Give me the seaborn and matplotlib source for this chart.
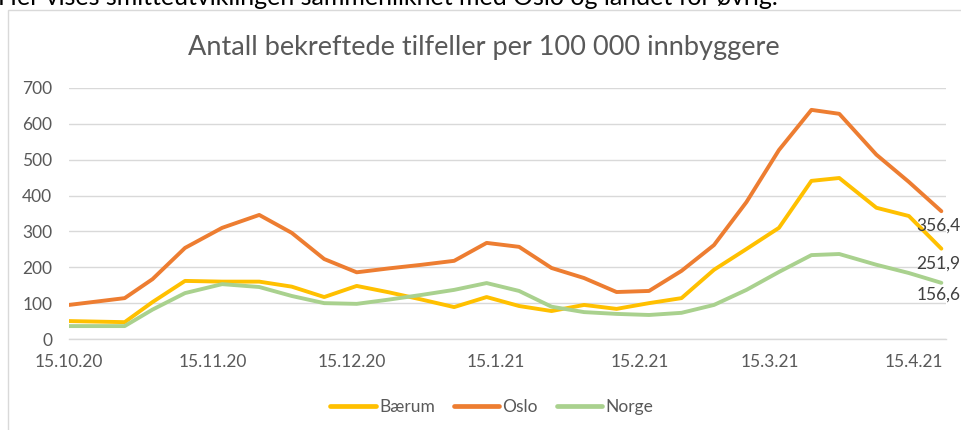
import matplotlib
matplotlib.use("Agg")
import matplotlib.pyplot as plt
import matplotlib.dates as mdates
import matplotlib.ticker as mticker
from matplotlib.patches import Rectangle
import pandas as pd
import seaborn as sns

dates = ["2020-10-15", "2020-10-27", "2020-11-02", "2020-11-09", "2020-11-17",
         "2020-11-25", "2020-12-02", "2020-12-09", "2020-12-16", "2020-12-23",
         "2020-12-30", "2021-01-06", "2021-01-13", "2021-01-20", "2021-01-27",
         "2021-02-03", "2021-02-10", "2021-02-17", "2021-02-24", "2021-03-03",
         "2021-03-10", "2021-03-17", "2021-03-24", "2021-03-30", "2021-04-07",
         "2021-04-14", "2021-04-21"]

baerum = [50, 47, 103, 162, 160, 160, 146, 117, 148, 130, 110, 89, 117, 92, 78,
          95, 84, 100, 114, 193, 251, 310, 441, 449, 366, 343, 251.9]
oslo = [95, 114, 167, 254, 310, 346, 296, 223, 186, 197, 207, 218, 268, 257, 198,
        170, 131, 134, 190, 262, 382, 527, 639, 628, 514, 438, 356.4]
norge = [36, 36, 82, 128, 153, 145, 120, 100, 98, 110, 123, 137, 156, 134, 90,
         75, 70, 67, 73, 95, 137, 187, 234, 237, 207, 184, 156.6]

series_names = ["Bærum", "Oslo", "Norge"]
series_colors = ["#FFC000", "#ED7D31", "#A9D18E"]
tick_dates = ["2020-10-15", "2020-11-15", "2020-12-15", "2021-01-15",
              "2021-02-15", "2021-03-15", "2021-04-15"]
y_ticks = [0, 100, 200, 300, 400, 500, 600, 700]
title = "Antall bekreftede tilfeller per 100 000 innbyggere"
intro = "Her vises smitteutviklingen sammenliknet med Oslo og landet for øvrig."

df = pd.DataFrame({
    "dato": pd.to_datetime(dates * 3),
    "verdi": baerum + oslo + norge,
    "serie": [series_names[0]] * len(dates) + [series_names[1]] * len(dates)
             + [series_names[2]] * len(dates),
})

sns.set_style("white")
plt.rcParams["font.family"] = ["Lato", "DejaVu Sans"]

fig = plt.figure(figsize=(9.62, 4.30), dpi=100)
ax = fig.add_axes([69 / 962, (430 - 339) / 430, (946 - 69) / 962, (339 - 88) / 430])

# chart frame
fig.patches.append(Rectangle((8 / 962, -0.05), 1.2, (430 - 10) / 430 + 0.05,
                             transform=fig.transFigure, fill=False,
                             edgecolor="#D9D9D9", lw=1.0, zorder=0))
fig.text(-0.002, 1 - 5 / 430, intro, fontsize=18, color="#000000",
         ha="left", va="baseline")

sns.lineplot(data=df, x="dato", y="verdi", hue="serie", hue_order=series_names,
             palette=dict(zip(series_names, series_colors)), ax=ax, lw=2.8,
             solid_joinstyle="round", solid_capstyle="round", legend=True)

ax.set_xlim(pd.Timestamp("2020-10-15"), pd.Timestamp("2021-04-22"))
ax.set_ylim(0, 700)
ax.set_yticks(y_ticks)
ax.set_xticks(pd.to_datetime(tick_dates))
ax.xaxis.set_major_formatter(mticker.FuncFormatter(
    lambda v, p: (lambda d: f"{d.day}.{d.month}.{d.strftime('%y')}")(mdates.num2date(v))))
ax.grid(axis="y", color="#D9D9D9", lw=1.0)
ax.set_axisbelow(True)
for s in ["top", "right", "left"]:
    ax.spines[s].set_visible(False)
ax.spines["bottom"].set_color("#D9D9D9")
ax.spines["bottom"].set_linewidth(1.0)
ax.tick_params(axis="x", length=5, width=1, color="#D9D9D9", labelsize=12.5,
               labelcolor="#595959", pad=6)
ax.tick_params(axis="y", length=0, labelsize=12.5, labelcolor="#595959", pad=12)
ax.set_xlabel("")
ax.set_ylabel("")

# data labels on last points
last = pd.Timestamp(dates[-1])
for vals, dy in [(oslo, -14), (baerum, -15), (norge, -12)]:
    v = vals[-1]
    ax.annotate(f"{v:.1f}".replace(".", ","), xy=(last, v), xytext=(-25, dy),
                textcoords="offset pixels", ha="left", va="center",
                fontsize=12.5, color="#404040", annotation_clip=False)

fig.text(484 / 962, (430 - 47) / 430, title, fontsize=19.5, color="#595959",
         ha="center", va="center")

handles, labels = ax.get_legend_handles_labels()
ax.get_legend().remove()
for h in handles:
    h.set_linewidth(3.4)
    h.set_solid_capstyle("round")
leg = fig.legend(handles, labels, loc="center", bbox_to_anchor=(492 / 962, (430 - 407) / 430),
                 ncol=3, frameon=False, fontsize=12.5, handlelength=2.6,
                 handletextpad=0.2, columnspacing=1.1)
for t in leg.get_texts():
    t.set_color("#595959")

fig.savefig("out.png", dpi=100)
